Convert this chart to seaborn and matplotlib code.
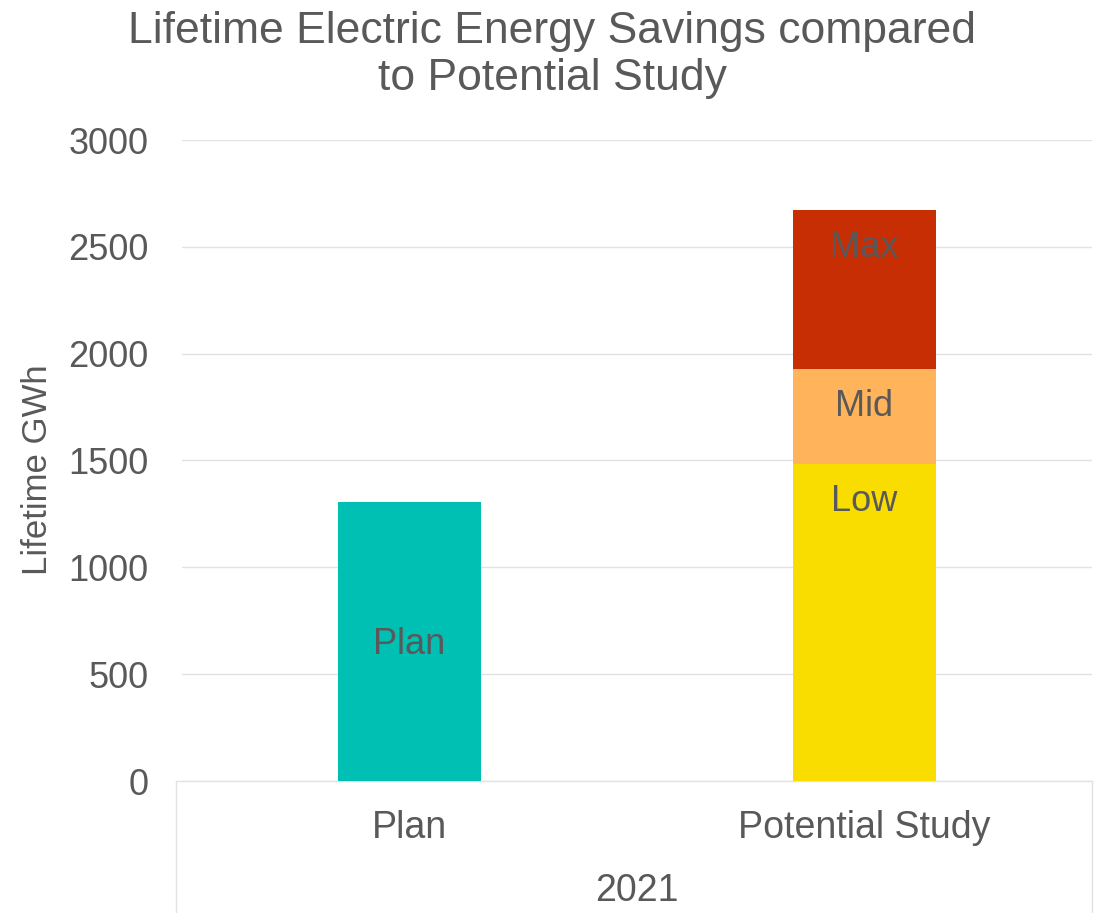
import numpy as np
import pandas as pd
import matplotlib
matplotlib.use('Agg')
import matplotlib.pyplot as plt
import seaborn as sns

# Data (GWh)
categories = ['Plan', 'Potential Study']
plan_value = 1305
segment_names = ['Low', 'Mid', 'Max']
segment_values = [1485, 445, 742]
segment_colors = ['#F9DC00', '#FFB35B', '#C82E04']
plan_color = '#00BFB3'
year_label = '2021'

text_color = '#595959'
grid_color = '#E2E2E2'

sns.set_style('white')
plt.rcParams['font.family'] = ['Liberation Sans', 'DejaVu Sans']

fig = plt.figure(figsize=(11.04, 9.13), dpi=100)
W, H = 1104, 913
ax = fig.add_axes([182 / W, 1 - 781 / H, (1092 - 182) / W, (781 - 140) / H])

bar_width = 0.314

# Plan bar
plan_df = pd.DataFrame({'cat': ['Plan'], 'value': [plan_value]})
sns.barplot(data=plan_df, x='cat', y='value', order=categories, color=plan_color,
            width=bar_width, saturation=1, linewidth=0, ax=ax, zorder=3)

# Stacked Potential Study bar: draw cumulative totals from the top down
cum = np.cumsum(segment_values)
for name, top, color in reversed(list(zip(segment_names, cum, segment_colors))):
    df = pd.DataFrame({'cat': ['Potential Study'], 'value': [top]})
    sns.barplot(data=df, x='cat', y='value', order=categories, color=color,
                width=bar_width, saturation=1, linewidth=0, ax=ax, zorder=3)

# Labels
ax.annotate('Plan', xy=(0, plan_value / 2), xytext=(0, -2), textcoords='offset points',
            ha='center', va='center', fontsize=26, color=text_color, zorder=4)
for name, top in zip(segment_names, cum):
    ax.annotate(name, xy=(1, top), xytext=(0, -27), textcoords='offset points',
                ha='center', va='center', fontsize=26, color=text_color, zorder=4)

ax.set_ylim(0, 3000)
ax.set_xlim(-0.5, 1.5)
ax.set_yticks(np.arange(0, 3001, 500))
ax.yaxis.grid(True, color=grid_color, linewidth=1.0, zorder=0)
ax.set_axisbelow(True)
for s in ['top', 'right', 'left']:
    ax.spines[s].set_visible(False)
ax.spines['bottom'].set_color(grid_color)
ax.spines['bottom'].set_linewidth(1.0)

ax.tick_params(axis='y', length=0, pad=24, labelsize=26, labelcolor=text_color)
ax.set_xticks([])
ax.set_xlabel('')
ax.set_ylabel('')

# Multi-level category axis
for i, c in enumerate(categories):
    ax.text(i, -47 / 641, c, transform=ax.get_xaxis_transform(), ha='center', va='center',
            fontsize=27, color=text_color)
ax.text(0.5, -110 / 641, year_label, transform=ax.get_xaxis_transform(), ha='center', va='center',
        fontsize=27, color=text_color)
fig.add_artist(plt.Line2D([176 / W, 176 / W], [0, 1 - 781 / H], color=grid_color, linewidth=1.0))
fig.add_artist(plt.Line2D([1092 / W, 1092 / W], [0, 1 - 781 / H], color=grid_color, linewidth=1.0))
fig.add_artist(plt.Line2D([176 / W, 182 / W], [1 - 781 / H, 1 - 781 / H], color=grid_color, linewidth=1.0))

fig.text(38 / W, 1 - 470 / H, 'Lifetime GWh', rotation=90, ha='center', va='center',
         fontsize=25, color=text_color)

fig.text(552 / W, 1 - 55 / H, 'Lifetime Electric Energy Savings compared\nto Potential Study',
         ha='center', va='center', fontsize=32, color=text_color, linespacing=1.2)

fig.savefig('out.png', dpi=100)
